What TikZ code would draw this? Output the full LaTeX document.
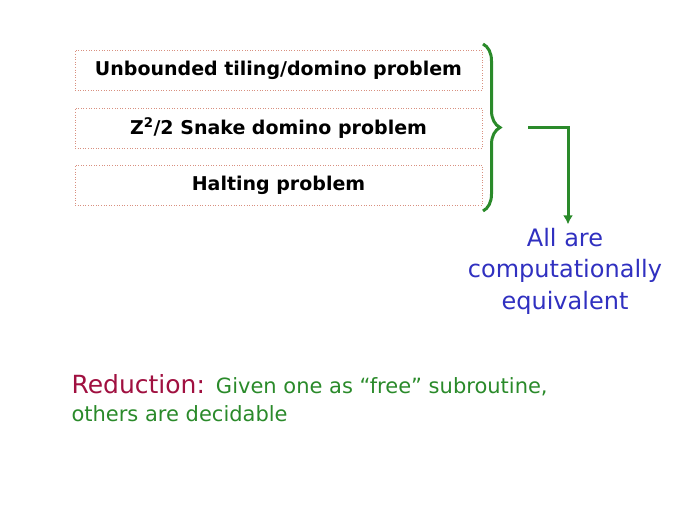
\documentclass[tikz,border=0pt]{standalone}
\usepackage{fontspec}
\setmainfont{DejaVu Sans}
\usepackage{tikz}
\usetikzlibrary{arrows.meta,positioning,decorations.pathreplacing}
\definecolor{leafgreen}{HTML}{2A8A2A}
\definecolor{inkblue}{HTML}{3030C0}
\definecolor{wine}{HTML}{A01040}
\definecolor{dotred}{HTML}{D89080}

\begin{document}
\begin{tikzpicture}[x=1pt,y=1pt,
  probbox/.style={draw=dotred,dotted,line width=0.6pt,minimum width=407pt,minimum height=40pt,font=\fontsize{19}{22}\selectfont\bfseries},
  bluetext/.style={text=inkblue,align=center,font=\fontsize{24}{31.5}\selectfont}]
\useasboundingbox (0,0) rectangle (689,-517);
\node[probbox] (unb) at (278.5,-70) {Unbounded tiling/domino problem};
\node[probbox] (snk) at (278.5,-128) {Z\textsuperscript{2}/2 Snake domino problem};
\node[probbox] (hlt) at (278.5,-185) {Halting problem};
\draw[leafgreen,line width=3pt,decorate,decoration={brace,amplitude=17pt,aspect=0.5}] (483,-44) -- (483,-211);
\coordinate (tip) at (528,-127);
\node[bluetext] (equiv) at (565,-271) {All are\\computationally\\equivalent};
\draw[leafgreen,line width=3pt,-{Latex[length=9pt,width=10pt]}] (tip) -| ([xshift=3pt]equiv.north);
\node[anchor=base west,text=wine,font=\fontsize{25}{28}\selectfont] (red) at (68,-393) {Reduction:};
\node[anchor=base west,text=leafgreen,font=\fontsize{21}{24}\selectfont] (given) at ([xshift=4pt]red.base east) {Given one as ``free'' subroutine,};
\node[anchor=base west,text=leafgreen,font=\fontsize{21}{24}\selectfont] (decid) at (68,-421) {others are decidable};
\end{tikzpicture}
\end{document}
